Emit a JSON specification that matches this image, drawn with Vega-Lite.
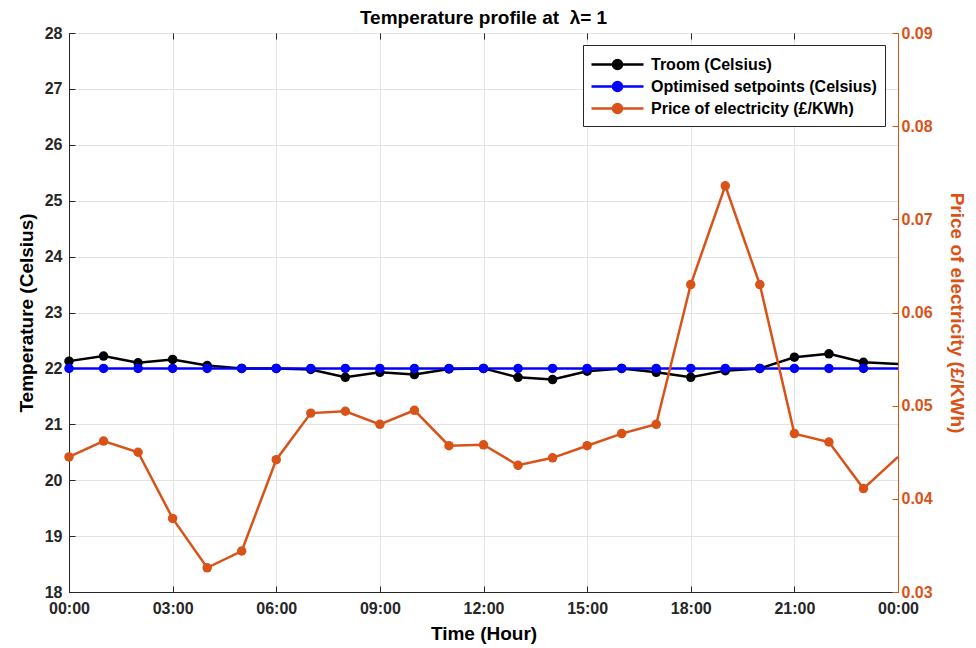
{
  "$schema": "https://vega.github.io/schema/vega-lite/v6.json",
  "width": 829,
  "height": 559,
  "autosize": {"type": "none"},
  "padding": {"left": 69, "top": 33, "right": 78, "bottom": 56},
  "background": "white",
  "title": {"text": "Temperature profile at \u00a0λ= 1", "font": "Liberation Sans", "fontSize": 19, "fontWeight": "bold", "color": "black", "offset": -3, "anchor": "middle"},
  "config": {
    "view": {"stroke": "#262626", "strokeWidth": 1},
    "axis": {"labelFont": "Liberation Sans", "labelFontSize": 16, "labelFontWeight": "bold", "labelColor": "#262626", "titleFont": "Liberation Sans", "titleFontSize": 19, "titleFontWeight": "bold", "titleColor": "black", "gridColor": "#e3e3e3", "gridWidth": 1, "domainColor": "#262626", "tickColor": "#262626"}
  },
  "data": {"values": [
    {"h": 0, "s": "Troom (Celsius)", "v": 22.13},
    {"h": 1, "s": "Troom (Celsius)", "v": 22.22},
    {"h": 2, "s": "Troom (Celsius)", "v": 22.10},
    {"h": 3, "s": "Troom (Celsius)", "v": 22.16},
    {"h": 4, "s": "Troom (Celsius)", "v": 22.05},
    {"h": 5, "s": "Troom (Celsius)", "v": 22.00},
    {"h": 6, "s": "Troom (Celsius)", "v": 22.00},
    {"h": 7, "s": "Troom (Celsius)", "v": 21.98},
    {"h": 8, "s": "Troom (Celsius)", "v": 21.84},
    {"h": 9, "s": "Troom (Celsius)", "v": 21.93},
    {"h": 10, "s": "Troom (Celsius)", "v": 21.89},
    {"h": 11, "s": "Troom (Celsius)", "v": 21.99},
    {"h": 12, "s": "Troom (Celsius)", "v": 22.00},
    {"h": 13, "s": "Troom (Celsius)", "v": 21.84},
    {"h": 14, "s": "Troom (Celsius)", "v": 21.80},
    {"h": 15, "s": "Troom (Celsius)", "v": 21.95},
    {"h": 16, "s": "Troom (Celsius)", "v": 22.00},
    {"h": 17, "s": "Troom (Celsius)", "v": 21.93},
    {"h": 18, "s": "Troom (Celsius)", "v": 21.84},
    {"h": 19, "s": "Troom (Celsius)", "v": 21.96},
    {"h": 20, "s": "Troom (Celsius)", "v": 22.00},
    {"h": 21, "s": "Troom (Celsius)", "v": 22.20},
    {"h": 22, "s": "Troom (Celsius)", "v": 22.26},
    {"h": 23, "s": "Troom (Celsius)", "v": 22.11},
    {"h": 24, "s": "Troom (Celsius)", "v": 22.08},
    {"h": 0, "s": "Optimised setpoints (Celsius)", "v": 22},
    {"h": 1, "s": "Optimised setpoints (Celsius)", "v": 22},
    {"h": 2, "s": "Optimised setpoints (Celsius)", "v": 22},
    {"h": 3, "s": "Optimised setpoints (Celsius)", "v": 22},
    {"h": 4, "s": "Optimised setpoints (Celsius)", "v": 22},
    {"h": 5, "s": "Optimised setpoints (Celsius)", "v": 22},
    {"h": 6, "s": "Optimised setpoints (Celsius)", "v": 22},
    {"h": 7, "s": "Optimised setpoints (Celsius)", "v": 22},
    {"h": 8, "s": "Optimised setpoints (Celsius)", "v": 22},
    {"h": 9, "s": "Optimised setpoints (Celsius)", "v": 22},
    {"h": 10, "s": "Optimised setpoints (Celsius)", "v": 22},
    {"h": 11, "s": "Optimised setpoints (Celsius)", "v": 22},
    {"h": 12, "s": "Optimised setpoints (Celsius)", "v": 22},
    {"h": 13, "s": "Optimised setpoints (Celsius)", "v": 22},
    {"h": 14, "s": "Optimised setpoints (Celsius)", "v": 22},
    {"h": 15, "s": "Optimised setpoints (Celsius)", "v": 22},
    {"h": 16, "s": "Optimised setpoints (Celsius)", "v": 22},
    {"h": 17, "s": "Optimised setpoints (Celsius)", "v": 22},
    {"h": 18, "s": "Optimised setpoints (Celsius)", "v": 22},
    {"h": 19, "s": "Optimised setpoints (Celsius)", "v": 22},
    {"h": 20, "s": "Optimised setpoints (Celsius)", "v": 22},
    {"h": 21, "s": "Optimised setpoints (Celsius)", "v": 22},
    {"h": 22, "s": "Optimised setpoints (Celsius)", "v": 22},
    {"h": 23, "s": "Optimised setpoints (Celsius)", "v": 22},
    {"h": 24, "s": "Optimised setpoints (Celsius)", "v": 22},
    {"h": 0, "s": "Price of electricity (£/KWh)", "v": 0.0445},
    {"h": 1, "s": "Price of electricity (£/KWh)", "v": 0.0462},
    {"h": 2, "s": "Price of electricity (£/KWh)", "v": 0.0450},
    {"h": 3, "s": "Price of electricity (£/KWh)", "v": 0.0379},
    {"h": 4, "s": "Price of electricity (£/KWh)", "v": 0.0326},
    {"h": 5, "s": "Price of electricity (£/KWh)", "v": 0.0344},
    {"h": 6, "s": "Price of electricity (£/KWh)", "v": 0.0442},
    {"h": 7, "s": "Price of electricity (£/KWh)", "v": 0.0492},
    {"h": 8, "s": "Price of electricity (£/KWh)", "v": 0.0494},
    {"h": 9, "s": "Price of electricity (£/KWh)", "v": 0.0480},
    {"h": 10, "s": "Price of electricity (£/KWh)", "v": 0.0495},
    {"h": 11, "s": "Price of electricity (£/KWh)", "v": 0.0457},
    {"h": 12, "s": "Price of electricity (£/KWh)", "v": 0.0458},
    {"h": 13, "s": "Price of electricity (£/KWh)", "v": 0.0436},
    {"h": 14, "s": "Price of electricity (£/KWh)", "v": 0.0444},
    {"h": 15, "s": "Price of electricity (£/KWh)", "v": 0.0457},
    {"h": 16, "s": "Price of electricity (£/KWh)", "v": 0.0470},
    {"h": 17, "s": "Price of electricity (£/KWh)", "v": 0.0480},
    {"h": 18, "s": "Price of electricity (£/KWh)", "v": 0.0630},
    {"h": 19, "s": "Price of electricity (£/KWh)", "v": 0.0736},
    {"h": 20, "s": "Price of electricity (£/KWh)", "v": 0.0630},
    {"h": 21, "s": "Price of electricity (£/KWh)", "v": 0.0470},
    {"h": 22, "s": "Price of electricity (£/KWh)", "v": 0.0461},
    {"h": 23, "s": "Price of electricity (£/KWh)", "v": 0.0411},
    {"h": 24, "s": "Price of electricity (£/KWh)", "v": 0.0445}
  ]},
  "layer": [
    {
      "transform": [{"filter": "datum.s !== 'Price of electricity (£/KWh)'"}],
      "encoding": {
        "x": {"field": "h", "type": "quantitative", "scale": {"domain": [0, 24], "nice": false, "zero": false},
          "axis": {"title": "Time (Hour)", "values": [0, 3, 6, 9, 12, 15, 18, 21, 24], "labelExpr": "(datum.value % 24 < 10 ? '0' : '') + (datum.value % 24) + ':00'", "grid": true, "tickSize": -6, "labelPadding": 14, "titlePadding": 8, "labelFlush": false}},
        "y": {"field": "v", "type": "quantitative", "scale": {"domain": [18, 28], "nice": false, "zero": false},
          "axis": {"title": "Temperature (Celsius)", "values": [18, 19, 20, 21, 22, 23, 24, 25, 26, 27, 28], "grid": true, "tickSize": -6, "labelPadding": 13, "titlePadding": 8, "labelFlush": false}},
        "color": {"field": "s", "type": "nominal", "sort": null,
          "scale": {"domain": ["Troom (Celsius)", "Optimised setpoints (Celsius)", "Price of electricity (£/KWh)"], "range": ["#000000", "#0000ff", "#d95319"]},
          "legend": {"title": null, "orient": "none", "legendX": 514, "legendY": 12, "fillColor": "white", "strokeColor": "#262626", "padding": 8, "labelFont": "Liberation Sans", "labelFontSize": 16, "labelFontWeight": "bold", "labelColor": "black", "labelLimit": 400, "rowPadding": 1, "symbolSize": 400, "symbolStrokeWidth": 2.5, "symbolOffset": 15, "labelOffset": 22,
            "symbolType": "M-2.6,0H2.6M0.45,0A0.45,0.45,0,1,1,-0.45,0A0.45,0.45,0,1,1,0.45,0Z",
            "encode": {"symbols": {"update": {"fill": {"scale": "color", "field": "value"}, "stroke": {"scale": "color", "field": "value"}, "opacity": {"value": 1}, "fillOpacity": {"value": 1}}}}}
        }
      },
      "layer": [
        {"mark": {"type": "line", "strokeWidth": 2.5}},
        {"transform": [{"filter": "datum.h < 24"}], "mark": {"type": "point", "filled": true, "size": 90, "opacity": 1}}
      ]
    },
    {
      "transform": [{"filter": "datum.s === 'Price of electricity (£/KWh)'"}],
      "encoding": {
        "x": {"field": "h", "type": "quantitative", "scale": {"domain": [0, 24], "nice": false, "zero": false},
          "axis": {"orient": "top", "title": null, "values": [0, 3, 6, 9, 12, 15, 18, 21, 24], "labels": false, "grid": false, "domain": false, "tickSize": -6}},
        "y": {"field": "v", "type": "quantitative", "scale": {"domain": [0.03, 0.09], "nice": false, "zero": false},
          "axis": {"orient": "right", "title": "Price of electricity (£/KWh)", "values": [0.03, 0.04, 0.05, 0.06, 0.07, 0.08, 0.09], "format": ".2f", "grid": false, "tickSize": -6, "labelPadding": 9, "titlePadding": 14, "labelFlush": false, "domainColor": "#d95319", "tickColor": "#d95319", "labelColor": "#d95319", "titleColor": "#d95319"}},
        "color": {"field": "s", "type": "nominal", "sort": null,
          "scale": {"domain": ["Troom (Celsius)", "Optimised setpoints (Celsius)", "Price of electricity (£/KWh)"], "range": ["#000000", "#0000ff", "#d95319"]}}
      },
      "layer": [
        {"mark": {"type": "line", "strokeWidth": 2.5}},
        {"transform": [{"filter": "datum.h < 24"}], "mark": {"type": "point", "filled": true, "size": 90, "opacity": 1}}
      ]
    }
  ],
  "resolve": {"scale": {"y": "independent"}, "axis": {"x": "independent"}}
}
